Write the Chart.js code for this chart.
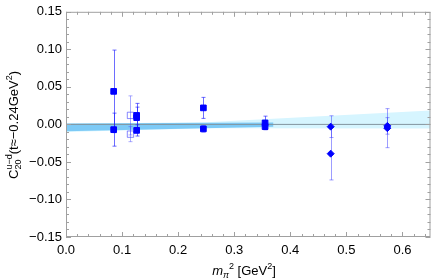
<!DOCTYPE html>
<html>
<head>
<meta charset="utf-8">
<script src="https://cdn.jsdelivr.net/npm/chart.js@4"></script>
<style>
  html, body { margin: 0; padding: 0; background: #fff; }
</style>
</head>
<body>
<canvas id="chart" width="436" height="280"></canvas>
<script>
// filled squares
const filledX = [0.085, 0.085, 0.126, 0.126, 0.126, 0.245, 0.245, 0.355, 0.355];
const filledY = [0.044, -0.007, 0.012, 0.009, -0.008, 0.022, -0.006, 0.002, -0.003];
const filledErr = [0.055, 0.022, 0.016, 0.014, 0.0075, 0.014, 0.004, 0.009, 0.004];

// open squares
const openX = [0.115, 0.115];
const openY = [0.012, -0.013];
const openErr = [0.026, 0.010];

// diamonds
const diamondX = [0.472, 0.472, 0.573, 0.573];
const diamondY = [-0.003, -0.039, -0.002, -0.005];
const diamondErr = [0.0145, 0.035, 0.011, 0.026];

// fit bands
const lightBandX = [0, 0.25, 0.65];
const lightBandHi = [0.001, 0.003, 0.0186];
const lightBandLo = [-0.010, -0.005, -0.0055];
const darkBandX = [0, 0.37];
const darkBandHi = [0.0012, 0.0025];
const darkBandLo = [-0.009, -0.003];

const zeroX = [0, 0.65];
const zeroY = [0, 0];

const xTickValues = [0.0, 0.1, 0.2, 0.3, 0.4, 0.5, 0.6];
const yTickValues = [-0.15, -0.10, -0.05, 0.00, 0.05, 0.10, 0.15];

const FONT = '"Liberation Sans", Arial, sans-serif';

function pts(xs, ys) {
    return xs.map((x, i) => ({ x: x, y: ys[i] }));
}

function bandLine(xs, ys, color, fill, order) {
    return {
        type: 'line',
        data: pts(xs, ys),
        borderWidth: 0,
        borderColor: 'rgba(0,0,0,0)',
        backgroundColor: color,
        pointRadius: 0,
        fill: fill,
        tension: 0,
        order: order
    };
}

// error bars, drawn right after the zero line so the markers sit on top
function drawErrors(ctx, xs, ys, errs, color, x, y) {
    ctx.strokeStyle = color;
    ctx.lineWidth = 1;
    xs.forEach((v, i) => {
        const px = Math.round(x.getPixelForValue(v)) + 0.5;
        const top = y.getPixelForValue(ys[i] + errs[i]);
        const bot = y.getPixelForValue(ys[i] - errs[i]);
        ctx.beginPath();
        ctx.moveTo(px, top); ctx.lineTo(px, bot);
        ctx.moveTo(px - 2, top); ctx.lineTo(px + 2, top);
        ctx.moveTo(px - 2, bot); ctx.lineTo(px + 2, bot);
        ctx.stroke();
    });
}

const errorBarPlugin = {
    id: 'errorBars',
    afterDatasetDraw(chart, args) {
        if (args.index !== 4) return;
        const { ctx, scales: { x, y } } = chart;
        ctx.save();
        drawErrors(ctx, openX, openY, openErr, 'rgba(70,70,255,0.45)', x, y);
        drawErrors(ctx, filledX, filledY, filledErr, 'rgba(30,30,255,0.65)', x, y);
        drawErrors(ctx, diamondX, diamondY, diamondErr, 'rgba(60,60,255,0.5)', x, y);
        ctx.restore();
    }
};

// text with super/subscripts; groups of parts share one horizontal slot
function richWidth(ctx, groups) {
    let w = 0;
    groups.forEach(g => {
        let m = 0;
        g.forEach(p => {
            ctx.font = (p.italic ? 'italic ' : '') + p.size + 'px ' + FONT;
            m = Math.max(m, ctx.measureText(p.t).width);
        });
        w += m;
    });
    return w;
}

function drawRich(ctx, groups, x0, y0) {
    let x = x0;
    groups.forEach(g => {
        let m = 0;
        g.forEach(p => {
            ctx.font = (p.italic ? 'italic ' : '') + p.size + 'px ' + FONT;
            ctx.fillText(p.t, x, y0 + (p.dy || 0));
            m = Math.max(m, ctx.measureText(p.t).width);
        });
        x += m;
    });
}

const framePlugin = {
    id: 'frame',
    afterDraw(chart) {
        const { ctx, chartArea: a, scales: { x, y } } = chart;
        ctx.save();
        ctx.strokeStyle = '#a0a0a0';
        ctx.lineWidth = 1;
        ctx.strokeRect(a.left + 0.5, a.top + 0.5, a.right - a.left - 1, a.bottom - a.top - 1);

        ctx.beginPath();
        for (let i = 0; i <= 65; i += 2) {
            const v = i / 100;
            const px = Math.round(x.getPixelForValue(v)) + 0.5;
            const len = (i % 10 === 0) ? 5 : 3;
            ctx.moveTo(px, a.bottom); ctx.lineTo(px, a.bottom - len);
            ctx.moveTo(px, a.top); ctx.lineTo(px, a.top + len);
        }
        for (let i = -15; i <= 15; i++) {
            const v = i / 100;
            const py = Math.round(y.getPixelForValue(v)) + 0.5;
            const len = (i % 5 === 0) ? 5 : 3;
            ctx.moveTo(a.left, py); ctx.lineTo(a.left + len, py);
            ctx.moveTo(a.right, py); ctx.lineTo(a.right - len, py);
        }
        ctx.stroke();

        ctx.fillStyle = '#000';
        ctx.textBaseline = 'alphabetic';
        ctx.textAlign = 'left';

        // y title, rotated
        const yTitle = [
            [{ t: 'C', size: 13 }],
            [{ t: 'u\u2212d', size: 9, dy: -6 }, { t: '20', size: 9, dy: 3 }],
            [{ t: '(t\u2248\u22120.24GeV', size: 13 }],
            [{ t: '2', size: 9, dy: -6 }],
            [{ t: ')', size: 13 }]
        ];
        const wy = richWidth(ctx, yTitle);
        ctx.save();
        ctx.translate(18, 125);
        ctx.rotate(-Math.PI / 2);
        drawRich(ctx, yTitle, -wy / 2, 0);
        ctx.restore();

        // x title
        const xTitle = [
            [{ t: 'm', size: 13, italic: true }],
            [{ t: '\u03c0', size: 9, dy: 3, italic: true }],
            [{ t: '2', size: 9, dy: -6 }],
            [{ t: ' [GeV', size: 13 }],
            [{ t: '2', size: 9, dy: -6 }],
            [{ t: ']', size: 13 }]
        ];
        const wx = richWidth(ctx, xTitle);
        drawRich(ctx, xTitle, 244 - wx / 2, 275);
        ctx.restore();
    }
};

const ctx = document.getElementById('chart').getContext('2d');
const chart = new Chart(ctx, {
    type: 'scatter',
    data: {
        datasets: [
            bandLine(lightBandX, lightBandHi, 'rgb(214,245,255)', '+1', 10),
            bandLine(lightBandX, lightBandLo, 'rgb(214,245,255)', false, 10),
            bandLine(darkBandX, darkBandHi, 'rgb(125,202,246)', '+1', 8),
            bandLine(darkBandX, darkBandLo, 'rgb(125,202,246)', false, 8),
            {
                type: 'line',
                data: pts(zeroX, zeroY),
                borderColor: 'rgb(130,148,158)',
                borderWidth: 1,
                pointRadius: 0,
                fill: false,
                order: 6
            },
            {
                data: pts(filledX, filledY),
                pointStyle: 'rect',
                pointRadius: 4,
                backgroundColor: '#0000ff',
                borderColor: '#0000ff',
                borderWidth: 1,
                order: 1
            },
            {
                data: pts(openX, openY),
                pointStyle: 'rect',
                pointRadius: 4.5,
                backgroundColor: 'rgba(255,255,255,0)',
                borderColor: 'rgba(60,60,255,0.6)',
                borderWidth: 1,
                order: 2
            },
            {
                data: pts(diamondX, diamondY),
                pointStyle: 'rectRot',
                pointRadius: 3.5,
                backgroundColor: '#0000ff',
                borderColor: '#0000ff',
                borderWidth: 1,
                order: 3
            }
        ]
    },
    options: {
        responsive: false,
        animation: false,
        devicePixelRatio: 1,
        layout: { padding: { left: 0, right: 1, top: 8, bottom: 0 } },
        plugins: {
            legend: { display: false },
            tooltip: { enabled: false }
        },
        scales: {
            x: {
                type: 'linear',
                min: 0,
                max: 0.65,
                afterBuildTicks: s => { s.ticks = xTickValues.map(v => ({ value: v })); },
                afterFit: s => { s.height = 43; },
                grid: { display: false, drawTicks: false },
                border: { display: false },
                ticks: {
                    padding: 6,
                    color: '#000',
                    font: { family: FONT, size: 13 },
                    maxRotation: 0,
                    callback: v => v.toFixed(1)
                }
            },
            y: {
                type: 'linear',
                min: -0.15,
                max: 0.15,
                afterBuildTicks: s => { s.ticks = yTickValues.map(v => ({ value: v })); },
                afterFit: s => { s.width = 66; },
                grid: { display: false, drawTicks: false },
                border: { display: false },
                ticks: {
                    padding: 4,
                    color: '#000',
                    font: { family: FONT, size: 13 },
                    callback: v => v.toFixed(2).replace('-', '\u2212')
                }
            }
        }
    },
    plugins: [errorBarPlugin, framePlugin]
});
</script>
</body>
</html>
